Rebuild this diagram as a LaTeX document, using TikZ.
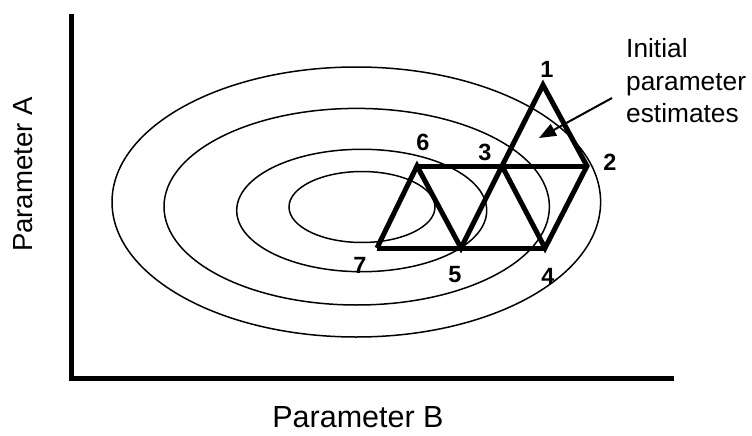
\documentclass[tikz,border=0pt]{standalone}
\usepackage{fontspec}
\setmainfont{Liberation Sans}
\usetikzlibrary{arrows.meta}

\tikzset{
  contour/.style={line width=1.5pt},
  simplex/.style={line width=5pt},
  vertex/.style={font=\fontsize{23.5}{24}\selectfont\bfseries, inner sep=0pt},
}

\begin{document}
\begin{tikzpicture}[x=1pt,y=-1pt]
  % \draw[help lines, gray!50, very thin] (0,0) grid[step=50] (752,436);
  \useasboundingbox (0,0) rectangle (752,436);

  % axes
  \draw[line width=5pt] (71,14) -- (71,378) -- (674,378);
  \node[font=\fontsize{27.6}{30}\selectfont, rotate=90, inner sep=0pt] (ylab) at (23,174.5) {Parameter A};
  \node[font=\fontsize{30.5}{34}\selectfont, inner sep=0pt] (xlab) at (358,417) {Parameter B};

  % contours
  \draw[contour] (356.3,202) ellipse [x radius=244.3, y radius=135];
  \draw[contour] (356.7,206.7) ellipse [x radius=192.7, y radius=98.3];
  \draw[contour] (361.7,210.5) ellipse [x radius=125, y radius=61.2];
  \draw[contour] (362,207) ellipse [x radius=73, y radius=35.5];

  % simplex vertices
  \coordinate (v1) at (543,85);
  \coordinate (v2) at (587,166);
  \coordinate (v3) at (502,166);
  \coordinate (v4) at (545,248);
  \coordinate (v5) at (461,248);
  \coordinate (v6) at (417,166);
  \coordinate (v7) at (377,248);

  \draw[simplex] (v7) -- (v6) -- (v5) -- (v3) -- (v1) -- (v2) -- (v4) -- (v3);
  \draw[simplex] (v6) -- (v2);
  \draw[simplex] (v7) -- (v4);

  \node[vertex] (n1) at (547,69) {1};
  \node[vertex] (n2) at (610,162) {2};
  \node[vertex] (n3) at (485,152) {3};
  \node[vertex] (n4) at (548,276) {4};
  \node[vertex] (n5) at (455,275) {5};
  \node[vertex] (n6) at (423,142) {6};
  \node[vertex] (n7) at (360,265) {7};

  % start label
  \node[font=\fontsize{26.3}{32.5}\selectfont, align=left, inner sep=0pt, anchor=west] (init) at (626,81) {Initial\\parameter\\estimates};
  \coordinate (tail) at (612,98);
  \coordinate (tip) at (539,138);
  \draw[line width=2pt, -{Triangle[length=17pt,width=13pt]}] (tail) -- (tip);
\end{tikzpicture}
\end{document}
